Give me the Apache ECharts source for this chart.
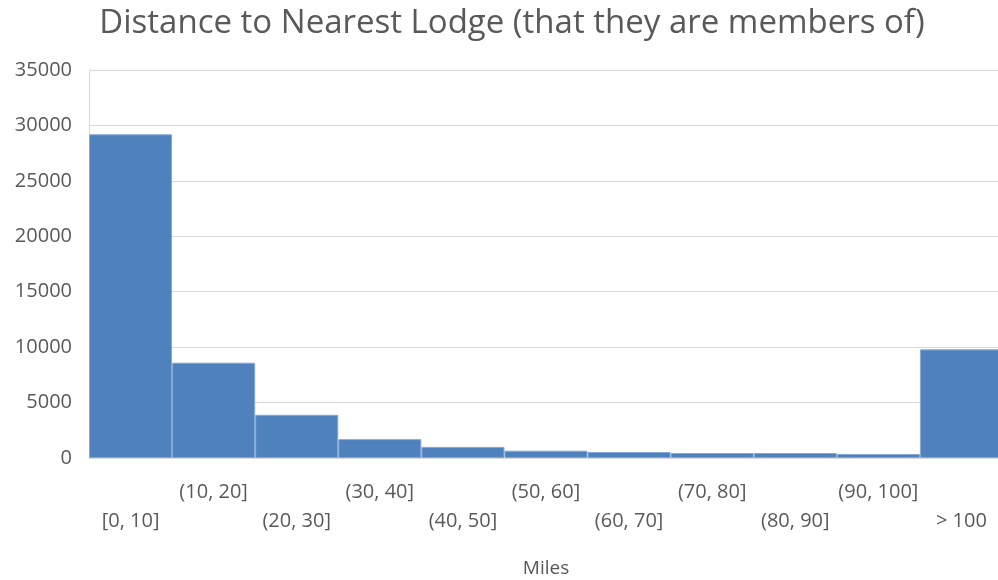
<!DOCTYPE html>
<html><head><meta charset="utf-8">
<script src="https://cdn.jsdelivr.net/npm/echarts@6/dist/echarts.min.js"></script>
<style>html,body{margin:0;padding:0;background:#fff}#c{width:998px;height:580px}</style>
</head><body><div id="c"></div>
<script>
const categories = ['[0, 10]','(10, 20]','(20, 30]','(30, 40]','(40, 50]','(50, 60]','(60, 70]','(70, 80]','(80, 90]','(90, 100]','> 100'];
const counts = [29200, 8600, 3900, 1700, 1000, 660, 540, 450, 450, 360, 9800];
const yTicks = [0, 5000, 10000, 15000, 20000, 25000, 30000, 35000];
const titleText = 'Distance to Nearest Lodge (that they are members of)';
const xName = 'Miles';

const font = 'Open Sans';
const chart = echarts.init(document.getElementById('c'));
chart.setOption({
  animation: false,
  title: {text: titleText, left: 507, top: 2, textAlign: 'center',
    textStyle: {fontFamily: font, fontSize: 33, fontWeight: 'normal', color: '#595959'}},
  grid: {left: 89, top: 70, width: 914, height: 388, outerBoundsMode: 'none', containLabel: false},
  xAxis: {
    type: 'category', data: categories, boundaryGap: true,
    name: xName, nameLocation: 'middle', nameGap: 101,
    nameTextStyle: {fontFamily: font, fontSize: 19, color: '#595959'},
    axisLine: {show: true, lineStyle: {color: '#d9d9d9', width: 1}},
    axisTick: {show: false},
    axisLabel: {interval: 0, margin: 20, fontFamily: font, fontSize: 20, color: '#595959', lineHeight: 29,
      formatter: (v, i) => (i % 2 === 0 ? '\n' + v : v)}
  },
  yAxis: {
    type: 'value', min: yTicks[0], max: yTicks[yTicks.length-1], interval: 5000,
    axisLine: {show: true, lineStyle: {color: '#d9d9d9', width: 1}},
    axisTick: {show: false},
    splitLine: {lineStyle: {color: '#d9d9d9', width: 1}},
    axisLabel: {margin: 17, fontFamily: font, fontSize: 20, color: '#595959', formatter: v => String(v)}
  },
  series: [{
    type: 'bar', data: counts, barCategoryGap: '0%', barGap: '0%',
    itemStyle: {color: '#4F81BD', borderColor: '#86a9d6', borderWidth: 1}
  }]
});
</script></body></html>
